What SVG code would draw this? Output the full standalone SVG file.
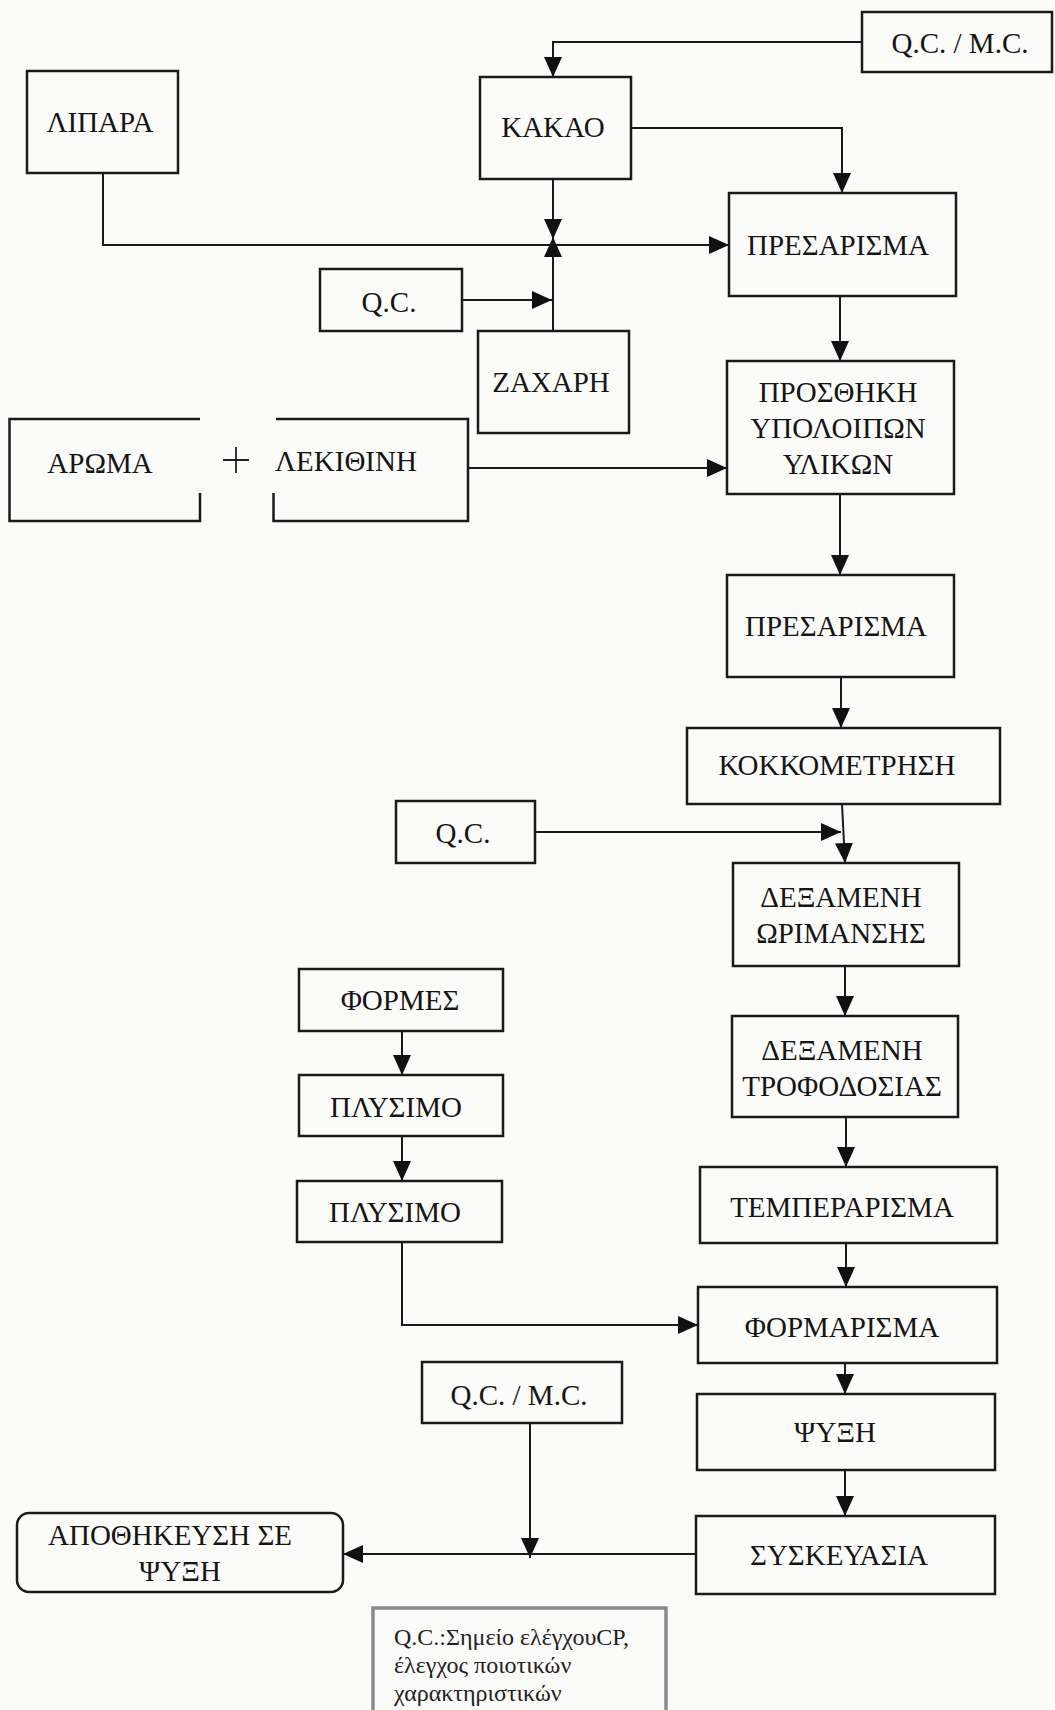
<svg xmlns="http://www.w3.org/2000/svg" width="1055" height="1710" viewBox="0 0 1055 1710">
<defs>
<style>
.box{fill:none;stroke:#1a1a1a;stroke-width:2.5}
.t{font-family:"Liberation Serif","Times New Roman",serif;font-size:29px;fill:#151515;text-anchor:middle}
.c{fill:none;stroke:#1a1a1a;stroke-width:2}
.lg{font-family:"Liberation Serif","Times New Roman",serif;font-size:24px;fill:#222}
</style>
<marker id="ah" viewBox="0 0 20 18" refX="20" refY="9" markerWidth="20" markerHeight="18" markerUnits="userSpaceOnUse" orient="auto">
<path d="M0,0 L20,9 L0,18 Z" fill="#111"/>
</marker>
</defs>
<rect width="1055" height="1710" fill="#fbfbfa"/>

<g id="connectors">
<path class="c" d="M862,42 H553 V77" marker-end="url(#ah)"/>
<path class="c" d="M631,128 H842 V193" marker-end="url(#ah)"/>
<path class="c" d="M103,173 V245 H729" marker-end="url(#ah)"/>
<path class="c" d="M553,179 V239" marker-end="url(#ah)"/>
<path class="c" d="M553,331 V237" marker-end="url(#ah)"/>
<path class="c" d="M462,300 H552" marker-end="url(#ah)"/>
<path class="c" d="M840,296 V361" marker-end="url(#ah)"/>
<path class="c" d="M469,468 H727" marker-end="url(#ah)"/>
<path class="c" d="M840,494 V575" marker-end="url(#ah)"/>
<path class="c" d="M841,677 V728" marker-end="url(#ah)"/>
<path class="c" d="M842,804 L845,863" marker-end="url(#ah)"/>
<path class="c" d="M535,832 H841" marker-end="url(#ah)"/>
<path class="c" d="M845,966 V1016" marker-end="url(#ah)"/>
<path class="c" d="M846,1117 V1167" marker-end="url(#ah)"/>
<path class="c" d="M846,1243 V1287" marker-end="url(#ah)"/>
<path class="c" d="M402,1031 V1075" marker-end="url(#ah)"/>
<path class="c" d="M402,1136 V1181" marker-end="url(#ah)"/>
<path class="c" d="M402,1242 V1325 H698" marker-end="url(#ah)"/>
<path class="c" d="M845,1363 V1394" marker-end="url(#ah)"/>
<path class="c" d="M845,1470 V1516" marker-end="url(#ah)"/>
<path class="c" d="M696,1554 H343" marker-end="url(#ah)"/>
<path class="c" d="M530,1423 V1558" marker-end="url(#ah)"/>
</g>

<g id="qcmc-top"><rect class="box" x="862" y="12" width="190" height="60"/><text class="t" x="960" y="53">Q.C. / M.C.</text></g>
<g id="lipara"><rect class="box" x="27" y="71" width="151" height="102"/><text class="t" x="100" y="132">ΛΙΠΑΡΑ</text></g>
<g id="kakao"><rect class="box" x="480" y="77" width="151" height="102"/><text class="t" x="553" y="137">ΚΑΚΑΟ</text></g>
<g id="presarisma1"><rect class="box" x="729" y="193" width="227" height="103"/><text class="t" x="838" y="255">ΠΡΕΣΑΡΙΣΜΑ</text></g>
<g id="qc1"><rect class="box" x="320" y="269" width="142" height="62"/><text class="t" x="389" y="312">Q.C.</text></g>
<g id="zaxari"><rect class="box" x="478" y="331" width="151" height="102"/><text class="t" x="551" y="392">ΖΑΧΑΡΗ</text></g>
<g id="aroma"><path class="box" d="M200,419 H9.5 V521 H200 V493"/><text class="t" x="100" y="473">ΑΡΩΜΑ</text></g>
<g id="plus"><path d="M223,460 H249 M236,447 V473" stroke="#222" stroke-width="1.8" fill="none"/></g>
<g id="lekithini"><path class="box" d="M276,419 H468 V521 H273.5 V493"/><text class="t" x="346" y="471">ΛΕΚΙΘΙΝΗ</text></g>
<g id="prosthiki"><rect class="box" x="727" y="361" width="227" height="133"/><text class="t" x="838" y="402">ΠΡΟΣΘΗΚΗ</text><text class="t" x="838" y="438">ΥΠΟΛΟΙΠΩΝ</text><text class="t" x="838" y="474">ΥΛΙΚΩΝ</text></g>
<g id="presarisma2"><rect class="box" x="727" y="575" width="227" height="102"/><text class="t" x="836" y="636">ΠΡΕΣΑΡΙΣΜΑ</text></g>
<g id="kokkometrisi"><rect class="box" x="687" y="728" width="313" height="76"/><text class="t" x="837" y="775">ΚΟΚΚΟΜΕΤΡΗΣΗ</text></g>
<g id="qc2"><rect class="box" x="396" y="801" width="139" height="62"/><text class="t" x="463" y="843">Q.C.</text></g>
<g id="dexameni-orimansis"><rect class="box" x="733" y="863" width="226" height="103"/><text class="t" x="841" y="907">ΔΕΞΑΜΕΝΗ</text><text class="t" x="841" y="943">ΩΡΙΜΑΝΣΗΣ</text></g>
<g id="formes"><rect class="box" x="299" y="969" width="204" height="62"/><text class="t" x="400" y="1010">ΦΟΡΜΕΣ</text></g>
<g id="dexameni-trofodosias"><rect class="box" x="732" y="1016" width="226" height="101"/><text class="t" x="842" y="1060">ΔΕΞΑΜΕΝΗ</text><text class="t" x="842" y="1096">ΤΡΟΦΟΔΟΣΙΑΣ</text></g>
<g id="plysimo1"><rect class="box" x="299" y="1075" width="204" height="61"/><text class="t" x="396" y="1117">ΠΛΥΣΙΜΟ</text></g>
<g id="temperarisma"><rect class="box" x="700" y="1167" width="297" height="76"/><text class="t" x="842" y="1217">ΤΕΜΠΕΡΑΡΙΣΜΑ</text></g>
<g id="plysimo2"><rect class="box" x="297" y="1181" width="205" height="61"/><text class="t" x="395" y="1222">ΠΛΥΣΙΜΟ</text></g>
<g id="formarisma"><rect class="box" x="698" y="1287" width="299" height="76"/><text class="t" x="842" y="1337">ΦΟΡΜΑΡΙΣΜΑ</text></g>
<g id="qcmc-bottom"><rect class="box" x="422" y="1362" width="200" height="61"/><text class="t" x="519" y="1405">Q.C. / M.C.</text></g>
<g id="psyxi"><rect class="box" x="697" y="1394" width="298" height="76"/><text class="t" x="835" y="1442">ΨΥΞΗ</text></g>
<g id="syskeuasia"><rect class="box" x="696" y="1516" width="299" height="78"/><text class="t" x="839" y="1565">ΣΥΣΚΕΥΑΣΙΑ</text></g>
<g id="apothikeusi"><rect class="box" x="17" y="1513" width="326" height="79" rx="12"/><text class="t" x="170" y="1545">ΑΠΟΘΗΚΕΥΣΗ ΣΕ</text><text class="t" x="180" y="1581">ΨΥΞΗ</text></g>
<g id="legend"><rect x="373" y="1608" width="293" height="110" fill="none" stroke="#8a8a8a" stroke-width="3.5"/>
<text class="lg" x="394" y="1645">Q.C.:Σημείο ελέγχουCP,</text>
<text class="lg" x="394" y="1673">έλεγχος ποιοτικών</text>
<text class="lg" x="394" y="1701">χαρακτηριστικών</text></g>
</svg>
